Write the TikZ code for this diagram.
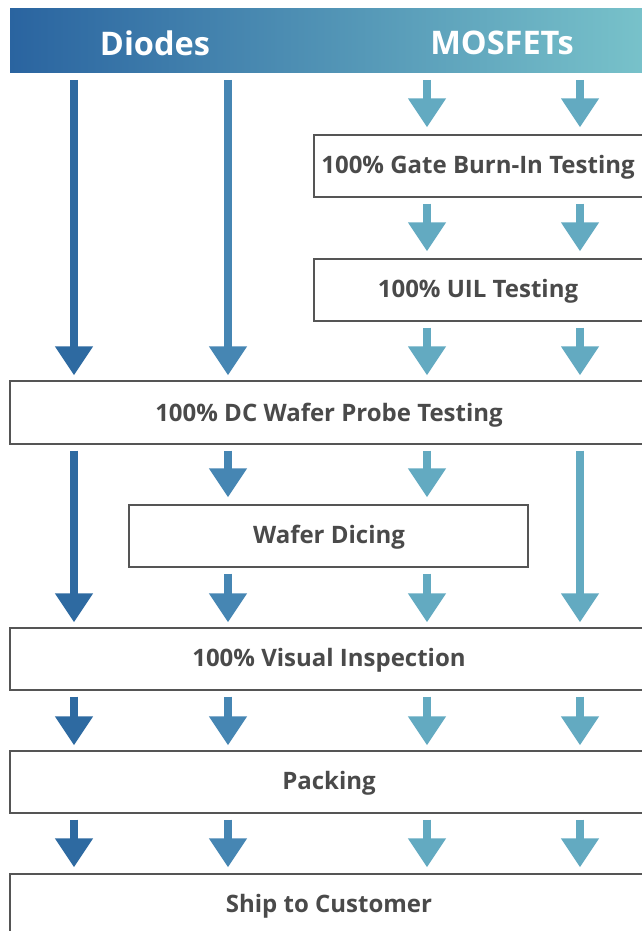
\documentclass[tikz,border=0pt]{standalone}
\usepackage{fontspec}
\setmainfont{Open Sans}
\usetikzlibrary{arrows.meta,calc}
\definecolor{cA}{HTML}{2E6AA1}
\definecolor{cB}{HTML}{4686B3}
\definecolor{cC}{HTML}{63AAC1}
\definecolor{cD}{HTML}{63AAC1}
\definecolor{hL}{HTML}{2A64A0}
\definecolor{hR}{HTML}{78C2CA}
\definecolor{txt}{HTML}{4A4A4A}
\definecolor{bord}{HTML}{555555}
\tikzset{
  boxfont/.style={font=\bfseries\fontsize{24}{28}\selectfont, text=txt},
  stepbox/.style={draw=bord, line width=1.2pt, fill=white, inner sep=0pt, boxfont},
  hdrtext/.style={text=white, font=\bfseries\fontsize{32.5}{36}\selectfont},
  fat/.style={line width=8.5pt, -{Triangle[width=36pt,length=29pt]}},
}
\begin{document}
\begin{tikzpicture}[x=1pt,y=-1pt]
\useasboundingbox (0,0) rectangle (641,931);
% header
\shade[left color=hL, right color=hR] (10,9) rectangle (645,73);
\node[hdrtext] (hd) at (155,43) {Diodes};
\node[hdrtext] (hm) at (502,43) {MOSFETs};
\coordinate (top) at (0,73);
% columns
\coordinate (c1) at (74,0);
\coordinate (c2) at (228,0);
\coordinate (c3) at (427,0);
\coordinate (c4) at (580,0);
% boxes
\node[stepbox, minimum width=331pt, minimum height=62pt] (gb) at (479.5,166) {};
\node[boxfont] at (478,167.5) {100\% Gate Burn-In Testing};
\node[stepbox, minimum width=331pt, minimum height=62pt] (uil) at (479.5,290) {};
\node[boxfont] at (478,291.5) {100\% UIL Testing};
\node[stepbox, minimum width=637pt, minimum height=63pt] (dc) at (328.5,412.5) {};
\node[boxfont] at (329,415) {100\% DC Wafer Probe Testing};
\node[stepbox, minimum width=399pt, minimum height=62pt] (wd) at (328.5,536) {};
\node[boxfont] at (329,537.5) {Wafer Dicing};
\node[stepbox, minimum width=637pt, minimum height=62pt] (vi) at (328.5,659) {};
\node[boxfont] at (329,660.5) {100\% Visual Inspection};
\node[stepbox, minimum width=637pt, minimum height=62pt] (pk) at (328.5,782) {};
\node[boxfont] at (329,783.5) {Packing};
\node[stepbox, minimum width=637pt, minimum height=70pt] (sc) at (328.5,909) {};
\node[boxfont] at (329,906.5) {Ship to Customer};
% arrows from header
\draw[fat, cA] ($(top -| c1)+(0,7)$) -- ($(dc.north -| c1)+(0,-5)$);
\draw[fat, cB] ($(top -| c2)+(0,7)$) -- ($(dc.north -| c2)+(0,-5)$);
\draw[fat, cC] ($(top -| c3)+(0,7)$) -- ($(gb.north -| c3)+(0,-7)$);
\draw[fat, cD] ($(top -| c4)+(0,7)$) -- ($(gb.north -| c4)+(0,-7)$);
\draw[fat, cC] ($(gb.south -| c3)+(0,6)$) -- ($(uil.north -| c3)+(0,-7)$);
\draw[fat, cD] ($(gb.south -| c4)+(0,6)$) -- ($(uil.north -| c4)+(0,-7)$);
\draw[fat, cC] ($(uil.south -| c3)+(0,6)$) -- ($(dc.north -| c3)+(0,-5)$);
\draw[fat, cD] ($(uil.south -| c4)+(0,6)$) -- ($(dc.north -| c4)+(0,-5)$);
% after DC probe
\draw[fat, cA] ($(dc.south -| c1)+(0,6)$) -- ($(vi.north -| c1)+(0,-5)$);
\draw[fat, cB] ($(dc.south -| c2)+(0,6)$) -- ($(wd.north -| c2)+(0,-7)$);
\draw[fat, cC] ($(dc.south -| c3)+(0,6)$) -- ($(wd.north -| c3)+(0,-7)$);
\draw[fat, cD] ($(dc.south -| c4)+(0,6)$) -- ($(vi.north -| c4)+(0,-5)$);
\draw[fat, cB] ($(wd.south -| c2)+(0,6)$) -- ($(vi.north -| c2)+(0,-5)$);
\draw[fat, cC] ($(wd.south -| c3)+(0,6)$) -- ($(vi.north -| c3)+(0,-5)$);
% after visual inspection
\foreach \c/\k in {c1/cA,c2/cB,c3/cC,c4/cD}{
  \draw[fat, \k] ($(vi.south -| \c)+(0,6)$) -- ($(pk.north -| \c)+(0,-5)$);
  \draw[fat, \k] ($(pk.south -| \c)+(0,6)$) -- ($(sc.north -| \c)+(0,-6)$);
}
\end{tikzpicture}
\end{document}
